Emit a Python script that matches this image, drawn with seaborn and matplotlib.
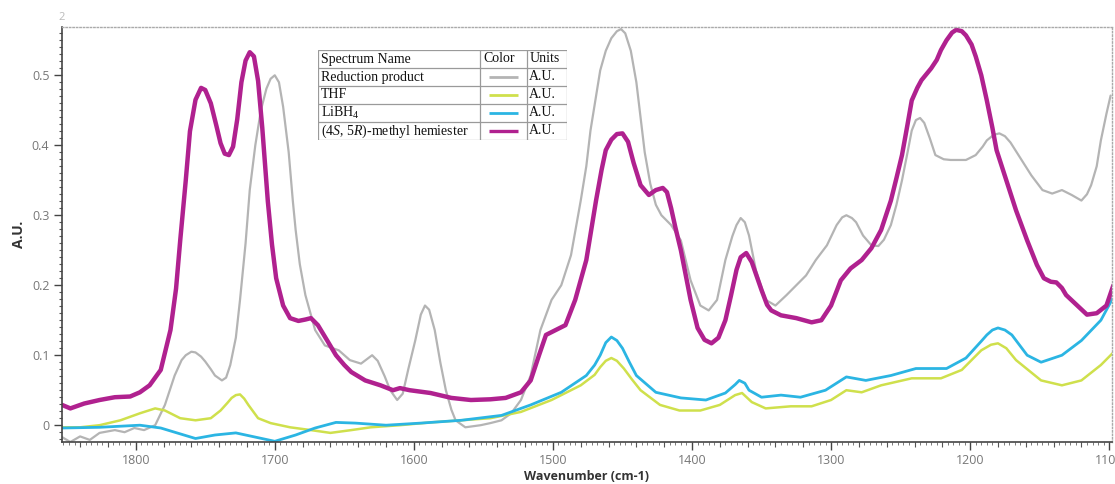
import numpy as np
import pandas as pd
import matplotlib
matplotlib.use("Agg")
import matplotlib.pyplot as plt
from matplotlib.ticker import MultipleLocator, NullLocator, FuncFormatter
import seaborn as sns

# ---- spectra (wavenumber in cm-1, absorbance in A.U.) ----
names = ["Reduction product", "THF", "LiBH$_4$", "(4$\\it{S}$, 5$\\it{R}$)-methyl hemiester"]
colors = ["#b4b4b4", "#cfe04c", "#2bb5e3", "#b0218f"]
widths = [1.6, 1.8, 2.0, 3.2]

red_wn = [1853, 1847, 1840, 1833, 1826, 1815, 1808, 1801, 1794, 1786, 1779, 1772, 1767, 1764,
          1760, 1757, 1753, 1750, 1746, 1743, 1738, 1735, 1732, 1728, 1725, 1721, 1718, 1714,
          1710, 1706, 1703, 1700, 1697, 1694, 1690, 1687, 1685, 1682, 1678, 1671, 1664, 1654,
          1646, 1638, 1634, 1630, 1626, 1621, 1617, 1612, 1608, 1604, 1599, 1595, 1592, 1589,
          1585, 1581, 1577, 1573, 1570, 1563, 1552, 1545, 1537, 1530, 1523, 1516, 1509, 1501,
          1494, 1487, 1480, 1476, 1473, 1469, 1466, 1462, 1458, 1454, 1451, 1448, 1444, 1440,
          1437, 1434, 1430, 1426, 1422, 1415, 1408, 1401, 1394, 1388, 1382, 1376, 1371, 1368,
          1365, 1362, 1359, 1354, 1347, 1340, 1332, 1325, 1318, 1311, 1303, 1296, 1292, 1289,
          1285, 1282, 1277, 1271, 1266, 1262, 1257, 1253, 1249, 1245, 1242, 1239, 1236, 1233,
          1229, 1225, 1219, 1214, 1203, 1196, 1191, 1188, 1183, 1179, 1175, 1171, 1163, 1156,
          1148, 1141, 1134, 1127, 1120, 1116, 1113, 1109, 1106, 1102, 1099]
red_au = [-0.017, -0.024, -0.016, -0.021, -0.011, -0.007, -0.010, -0.004, -0.007, 0.000, 0.029,
          0.071, 0.093, 0.100, 0.105, 0.104, 0.098, 0.091, 0.080, 0.071, 0.064, 0.068, 0.086,
          0.125, 0.179, 0.260, 0.336, 0.400, 0.450, 0.481, 0.495, 0.500, 0.490, 0.455, 0.390,
          0.320, 0.279, 0.230, 0.186, 0.136, 0.114, 0.107, 0.093, 0.088, 0.094, 0.100, 0.092,
          0.070, 0.050, 0.036, 0.045, 0.080, 0.121, 0.158, 0.171, 0.165, 0.136, 0.090, 0.050,
          0.022, 0.007, -0.003, 0.000, 0.003, 0.007, 0.017, 0.036, 0.071, 0.136, 0.179, 0.200,
          0.243, 0.321, 0.370, 0.421, 0.470, 0.507, 0.535, 0.553, 0.563, 0.566, 0.560, 0.535,
          0.490, 0.440, 0.390, 0.345, 0.315, 0.300, 0.286, 0.264, 0.207, 0.171, 0.164, 0.179,
          0.236, 0.270, 0.286, 0.296, 0.290, 0.271, 0.221, 0.179, 0.171, 0.186, 0.200, 0.214,
          0.236, 0.257, 0.286, 0.297, 0.300, 0.296, 0.290, 0.271, 0.257, 0.256, 0.265, 0.286,
          0.315, 0.350, 0.390, 0.421, 0.436, 0.439, 0.432, 0.410, 0.386, 0.380, 0.379, 0.379,
          0.386, 0.398, 0.407, 0.415, 0.417, 0.413, 0.404, 0.379, 0.357, 0.336, 0.331, 0.336,
          0.329, 0.321, 0.330, 0.343, 0.370, 0.407, 0.445, 0.471]

thf_wn = [1853, 1840, 1826, 1811, 1797, 1786, 1779, 1768, 1757, 1746, 1739, 1734, 1731, 1728,
          1725, 1722, 1719, 1712, 1703, 1689, 1674, 1660, 1645, 1631, 1610, 1588, 1566, 1545,
          1523, 1501, 1480, 1470, 1466, 1462, 1458, 1454, 1449, 1443, 1437, 1423, 1409, 1394,
          1380, 1369, 1364, 1357, 1347, 1329, 1314, 1300, 1289, 1278, 1264, 1242, 1221, 1206,
          1192, 1185, 1180, 1174, 1167, 1149, 1134, 1120, 1106, 1097]
thf_au = [-0.003, -0.003, 0.000, 0.007, 0.017, 0.024, 0.021, 0.010, 0.007, 0.010, 0.021, 0.032,
          0.039, 0.043, 0.044, 0.038, 0.029, 0.010, 0.003, -0.003, -0.007, -0.011, -0.007,
          -0.003, 0.000, 0.004, 0.007, 0.010, 0.019, 0.036, 0.057, 0.072, 0.083, 0.092, 0.096,
          0.092, 0.081, 0.065, 0.050, 0.029, 0.021, 0.021, 0.029, 0.043, 0.046, 0.033, 0.024,
          0.027, 0.027, 0.036, 0.050, 0.047, 0.057, 0.067, 0.067, 0.079, 0.107, 0.115, 0.117,
          0.110, 0.093, 0.064, 0.057, 0.064, 0.086, 0.104]

libh_wn = [1853, 1826, 1797, 1782, 1772, 1757, 1743, 1728, 1714, 1700, 1685, 1671, 1656, 1642,
           1620, 1595, 1566, 1537, 1516, 1494, 1476, 1470, 1466, 1462, 1458, 1454, 1450, 1445,
           1440, 1426, 1408, 1390, 1376, 1369, 1366, 1362, 1359, 1350, 1336, 1322, 1304, 1289,
           1275, 1257, 1239, 1217, 1203, 1192, 1188, 1184, 1180, 1175, 1170, 1159, 1149, 1134,
           1120, 1106, 1097]
libh_au = [-0.004, -0.003, 0.000, -0.004, -0.010, -0.019, -0.014, -0.011, -0.017, -0.023, -0.014,
           -0.004, 0.004, 0.003, 0.000, 0.003, 0.007, 0.014, 0.029, 0.047, 0.071, 0.086, 0.100,
           0.118, 0.126, 0.121, 0.110, 0.090, 0.071, 0.047, 0.039, 0.036, 0.046, 0.058, 0.064,
           0.060, 0.050, 0.040, 0.043, 0.040, 0.050, 0.069, 0.064, 0.071, 0.081, 0.081, 0.096,
           0.120, 0.129, 0.136, 0.139, 0.136, 0.129, 0.100, 0.090, 0.100, 0.121, 0.150, 0.183]

hemi_wn = [1853, 1847, 1837, 1826, 1815, 1804, 1797, 1790, 1782, 1775, 1771, 1768, 1764, 1761,
           1757, 1753, 1750, 1746, 1742, 1739, 1736, 1733, 1730, 1727, 1724, 1721, 1718, 1715,
           1712, 1709, 1705, 1702, 1699, 1694, 1689, 1683, 1678, 1674, 1669, 1662, 1656, 1650,
           1645, 1635, 1624, 1615, 1610, 1603, 1588, 1573, 1559, 1545, 1534, 1523, 1516, 1510,
           1505, 1498, 1491, 1484, 1476, 1469, 1465, 1462, 1458, 1454, 1450, 1446, 1442, 1437,
           1431, 1426, 1421, 1418, 1415, 1412, 1408, 1401, 1396, 1391, 1386, 1381, 1376, 1372,
           1368, 1365, 1361, 1357, 1353, 1350, 1346, 1343, 1336, 1325, 1314, 1307, 1300, 1293,
           1286, 1278, 1271, 1264, 1257, 1253, 1249, 1245, 1242, 1238, 1235, 1228, 1224, 1221,
           1217, 1213, 1210, 1206, 1203, 1199, 1196, 1192, 1188, 1184, 1181, 1174, 1167, 1159,
           1152, 1147, 1142, 1138, 1134, 1131, 1123, 1116, 1109, 1102, 1097]
hemi_au = [0.029, 0.024, 0.031, 0.036, 0.040, 0.041, 0.047, 0.057, 0.079, 0.136, 0.195, 0.264,
           0.350, 0.420, 0.465, 0.482, 0.479, 0.460, 0.428, 0.403, 0.388, 0.386, 0.398, 0.437,
           0.490, 0.521, 0.533, 0.527, 0.492, 0.425, 0.320, 0.258, 0.210, 0.171, 0.153, 0.149,
           0.151, 0.153, 0.143, 0.120, 0.100, 0.086, 0.076, 0.064, 0.057, 0.050, 0.053, 0.050,
           0.046, 0.039, 0.036, 0.037, 0.039, 0.047, 0.064, 0.100, 0.129, 0.136, 0.143, 0.179,
           0.236, 0.321, 0.365, 0.393, 0.408, 0.416, 0.417, 0.405, 0.375, 0.343, 0.329, 0.336,
           0.339, 0.333, 0.310, 0.283, 0.250, 0.179, 0.139, 0.122, 0.117, 0.125, 0.150, 0.185,
           0.222, 0.240, 0.246, 0.233, 0.210, 0.193, 0.172, 0.164, 0.157, 0.153, 0.147, 0.150,
           0.171, 0.207, 0.224, 0.236, 0.253, 0.279, 0.321, 0.353, 0.386, 0.430, 0.464, 0.482,
           0.493, 0.510, 0.522, 0.536, 0.550, 0.561, 0.565, 0.563, 0.557, 0.544, 0.527, 0.500,
           0.464, 0.425, 0.393, 0.350, 0.307, 0.264, 0.229, 0.210, 0.205, 0.204, 0.196, 0.186,
           0.171, 0.158, 0.160, 0.171, 0.200]

x_ticks = [1800, 1700, 1600, 1500, 1400, 1300, 1200, 1100]
y_ticks = [0, 0.1, 0.2, 0.3, 0.4, 0.5]

series = [(red_wn, red_au), (thf_wn, thf_au), (libh_wn, libh_au), (hemi_wn, hemi_au)]

sns.set_style("white")
plt.rcParams["font.family"] = ["Open Sans", "DejaVu Sans"]
plt.rcParams["mathtext.fontset"] = "custom"
plt.rcParams["mathtext.rm"] = "Liberation Serif"
plt.rcParams["mathtext.it"] = "Liberation Serif:italic"

W, H = 1115, 484
fig = plt.figure(figsize=(W / 100, H / 100), dpi=100)
fig.patch.set_facecolor("white")
ax = fig.add_axes([62 / W, 1 - 442 / H, (1112 - 62) / W, (442 - 27) / H])

for (wn, au), c, lw in zip(series, colors, widths):
    df = pd.DataFrame({"wn": wn, "au": au})
    sns.lineplot(data=df, x="wn", y="au", ax=ax, color=c, linewidth=lw,
                 solid_joinstyle="round", solid_capstyle="round", estimator=None)

ax.set_xlim(1853, 1098)
ax.set_ylim(-0.024, 0.569)

# axes frame: solid left/bottom, dotted top/right
for s in ["left", "bottom"]:
    ax.spines[s].set_color("#444444")
    ax.spines[s].set_linewidth(1.2)
for s in ["top", "right"]:
    ax.spines[s].set_color("#aaaaaa")
    ax.spines[s].set_linestyle((0, (1, 1.5)))
    ax.spines[s].set_linewidth(1.0)

ax.set_xticks(x_ticks)
ax.xaxis.set_minor_locator(MultipleLocator(20))
ax.set_yticks(y_ticks)
ax.yaxis.set_minor_locator(MultipleLocator(0.01))
ax.yaxis.set_major_formatter(FuncFormatter(lambda v, p: f"{v:g}"))
ax.tick_params(which="major", direction="out", length=6, width=1, color="#444444",
               labelsize=9, labelcolor="#777777", bottom=True, left=True, pad=3)
ax.tick_params(which="minor", direction="out", length=3.5, width=0.8, color="#555555",
               bottom=True, left=True)
ax.tick_params(axis="y", which="minor", length=2.5)

# fine tick marks along the wavenumber axis
sec = ax.secondary_xaxis("bottom")
sec.xaxis.set_major_locator(NullLocator())
sec.xaxis.set_minor_locator(MultipleLocator(4))
sec.tick_params(which="minor", direction="out", length=1.8, width=0.6, color="#666666")
sec.spines["bottom"].set_visible(False)

ax.set_xlabel("Wavenumber (cm-1)", fontsize=9, fontweight="bold", color="#333333", labelpad=2)
ax.set_ylabel("A.U.", fontsize=10, fontweight="bold", color="#333333", labelpad=4)

fig.text(62 / W, 1 - 18 / H, "2", fontsize=8, color="#bbbbbb", ha="center", va="center")

# spectrum table
tx0, ty0, tw, th = 318, 50, 249, 90
tab = fig.add_axes([tx0 / W, 1 - (ty0 + th) / H, tw / W, th / H])
tab.set_xlim(0, tw)
tab.set_ylim(th, 0)
tab.axis("off")
tab.add_patch(plt.Rectangle((0, 0), tw, th, facecolor="white", edgecolor="#9a9a9a", lw=0.9))
col_x = [0, 162, 209, tw]
row_h = th / 5
for cx in col_x[1:-1]:
    tab.plot([cx, cx], [0, th], color="#9a9a9a", lw=0.9)
for r in range(1, 5):
    tab.plot([0, tw], [r * row_h, r * row_h], color="#9a9a9a", lw=0.9)

serif = ["Liberation Serif", "DejaVu Serif"]
hdr = ["Spectrum Name", "Color", "Units"]
for j, t in enumerate(hdr):
    tab.text(col_x[j] + 3, row_h / 2, t, fontsize=10, family=serif, va="center", ha="left",
             color="#111111")
for i, (nm, c) in enumerate(zip(names, colors)):
    yc = (i + 1.5) * row_h
    tab.text(3, yc, nm, fontsize=10, family=serif, va="center", ha="left", color="#111111")
    tab.plot([col_x[1] + 9, col_x[2] - 9], [yc, yc], color=c, lw=2.0 if i < 3 else 2.4,
             solid_capstyle="butt")
    tab.text(col_x[2] + 2, yc, "A.U.", fontsize=10, family=serif, va="center", ha="left",
             color="#111111")

fig.savefig("out.png", dpi=100, facecolor="white")
